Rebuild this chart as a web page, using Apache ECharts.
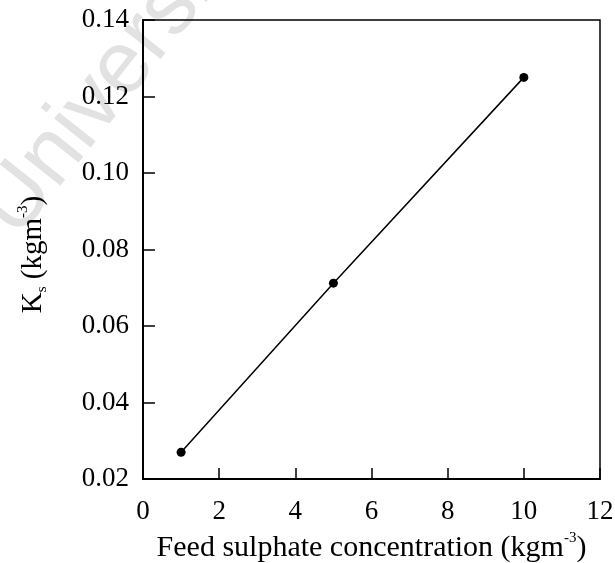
<!DOCTYPE html>
<html>
<head>
<meta charset="utf-8">
<script src="https://cdn.jsdelivr.net/npm/echarts@6/dist/echarts.min.js"></script>
<style>
html,body{margin:0;padding:0;background:#fff;}
#chart{width:615px;height:563px;}
</style>
</head>
<body>
<div id="chart"></div>
<script>
// Data
const feedSulphate = [1, 5, 10];
const ksValues = [0.027, 0.0712, 0.125];
const xTicks = [0, 2, 4, 6, 8, 10, 12];
const yTicks = [0.02, 0.04, 0.06, 0.08, 0.10, 0.12, 0.14];
const xTitle = 'Feed sulphate concentration (kgm';
const yTitleMain = 'K';
const yTitleSub = 's';
const watermark = 'University';

const FONT = '"Liberation Serif", "Times New Roman", serif';
const chart = echarts.init(document.getElementById('chart'), null, {renderer: 'canvas'});

const richStyles = {
  a: {fontFamily: FONT, fontSize: 30, color: '#000', lineHeight: 34, verticalAlign: 'middle'},
  sup: {fontFamily: FONT, fontSize: 15, color: '#000', lineHeight: 34, verticalAlign: 'top'},
  sub: {fontFamily: FONT, fontSize: 15, color: '#000', lineHeight: 34, verticalAlign: 'bottom'}
};
const richY = {
  a: Object.assign({}, richStyles.a, {fontSize: 29}),
  sup: richStyles.sup,
  sub: richStyles.sub
};

chart.setOption({
  backgroundColor: '#fff',
  animation: false,
  graphic: [{
    type: 'text',
    z: -10,
    x: -2,
    y: 225,
    rotation: 0.9,
    silent: true,
    style: {
      text: watermark,
      font: 'normal 88px "Liberation Sans", Arial, sans-serif',
      fill: '#e2e2e2',
      align: 'left',
      verticalAlign: 'middle'
    }
  }],
  grid: {
    left: 143, right: 15, top: 20, bottom: 84,
    outerBoundsMode: 'none',
    containLabel: false,
    show: true, borderColor: '#000', borderWidth: 1.5, backgroundColor: 'transparent',
    z: 5
  },
  xAxis: {
    type: 'value',
    min: xTicks[0], max: xTicks[xTicks.length - 1], interval: 2,
    name: '{a|' + xTitle + '}{sup|-3}{a|)}',
    nameLocation: 'middle',
    nameGap: 52,
    nameTextStyle: {rich: richStyles},
    axisLine: {show: true, onZero: false, lineStyle: {color: '#000', width: 2}},
    axisTick: {show: true, inside: true, length: 11, lineStyle: {color: '#000', width: 1.5}},
    axisLabel: {fontFamily: FONT, fontSize: 27, color: '#000', margin: 19},
    splitLine: {show: false}
  },
  yAxis: {
    type: 'value',
    min: yTicks[0], max: yTicks[yTicks.length - 1], interval: 0.02,
    name: '{a|' + yTitleMain + '}{sub|' + yTitleSub + '}{a| (kgm}{sup|-3}{a|)}',
    nameLocation: 'middle',
    nameGap: 93,
    nameRotate: 90,
    nameTextStyle: {rich: richY, padding: [0, 10, 0, 0]},
    axisLine: {show: true, onZero: false, lineStyle: {color: '#000', width: 2}},
    axisTick: {show: true, inside: true, length: 12, lineStyle: {color: '#000', width: 1.5}},
    axisLabel: {fontFamily: FONT, fontSize: 27, color: '#000', margin: 14,
      formatter: v => v.toFixed(2)},
    splitLine: {show: false}
  },
  series: [{
    type: 'line',
    data: feedSulphate.map((x, i) => [x, ksValues[i]]),
    symbol: 'circle',
    symbolSize: 9,
    itemStyle: {color: '#000'},
    lineStyle: {color: '#000', width: 1.5},
    z: 10
  }]
});
</script>
</body>
</html>
